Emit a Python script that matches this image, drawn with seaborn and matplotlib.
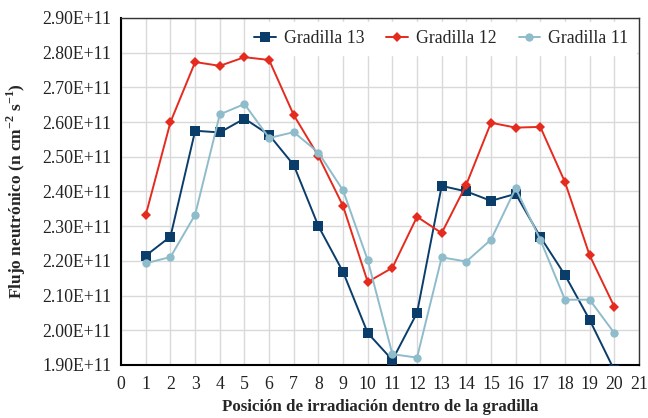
import numpy as np
import pandas as pd
import matplotlib
matplotlib.use("Agg")
import matplotlib.pyplot as plt
import seaborn as sns
from matplotlib.ticker import FuncFormatter, MultipleLocator

posiciones = list(range(1, 21))
gradilla_13 = [2.215, 2.27, 2.575, 2.57, 2.61, 2.563, 2.476, 2.30, 2.168, 1.992,
               1.914, 2.05, 2.416, 2.40, 2.373, 2.393, 2.269, 2.159, 2.03, 1.885]
gradilla_12 = [2.333, 2.60, 2.773, 2.762, 2.787, 2.779, 2.62, 2.502, 2.358, 2.139,
               2.180, 2.327, 2.280, 2.42, 2.598, 2.584, 2.586, 2.427, 2.216, 2.068]
gradilla_11 = [2.193, 2.211, 2.333, 2.622, 2.652, 2.554, 2.571, 2.512, 2.403, 2.202,
               1.931, 1.921, 2.21, 2.198, 2.261, 2.409, 2.261, 2.088, 2.088, 1.992]
series_names = ["Gradilla 13", "Gradilla 12", "Gradilla 11"]
colors = ["#0b3d6b", "#e52a1e", "#8fbccb"]
markers = ["s", "D", "o"]

rows = []
for name, vals in zip(series_names, [gradilla_13, gradilla_12, gradilla_11]):
    for p, v in zip(posiciones, vals):
        rows.append({"pos": p, "flujo": v * 1e11, "serie": name})
df = pd.DataFrame(rows)

sns.set_style("whitegrid")
plt.rcParams["font.family"] = ["Liberation Serif", "DejaVu Serif"]
plt.rcParams["mathtext.fontset"] = "custom"
plt.rcParams["mathtext.rm"] = "Liberation Serif"
plt.rcParams["mathtext.bf"] = "Liberation Serif:bold"

fig = plt.figure(figsize=(6.48, 4.18), dpi=100)
ax = fig.add_axes([0.187, 0.127, 0.799, 0.830])

for name, c, m in zip(series_names, colors, markers):
    sub = df[df["serie"] == name]
    ms = 6.5 if m == "s" else (5.5 if m == "D" else 6)
    sns.lineplot(data=sub, x="pos", y="flujo", ax=ax, color=c, marker=m,
                 markersize=ms, markeredgewidth=0, linewidth=1.4, label=name,
                 clip_on=True, zorder=3)

ax.set_xlim(0, 21)
ax.set_ylim(1.90e11, 2.90e11)
ax.xaxis.set_major_locator(MultipleLocator(1))
ax.yaxis.set_major_locator(MultipleLocator(0.1e11))
ax.yaxis.set_major_formatter(FuncFormatter(lambda v, p: f"{v:.2E}"))
ax.tick_params(axis="both", length=0, labelsize=12.8, colors="#222222")
ax.tick_params(axis="x", pad=8)
ax.tick_params(axis="y", pad=7)
ax.grid(True, color="#d9d9d9", linewidth=1.0)
ax.set_axisbelow(True)
for s in ["left", "bottom"]:
    ax.spines[s].set_color("black")
    ax.spines[s].set_linewidth(1.5)
for s in ["top", "right"]:
    ax.spines[s].set_color("#333333")
    ax.spines[s].set_linewidth(1.0)

ax.set_xlabel("Posición de irradiación dentro de la gradilla", fontsize=12.2,
              fontweight="bold", labelpad=4)
ax.set_ylabel(r"Flujo neutrónico (n cm$^{\mathbf{-2}}$ s$^{\mathbf{-1}}$)",
              fontsize=12.5, fontweight="bold", labelpad=10)

leg = ax.legend(loc="upper right", bbox_to_anchor=(0.998, 0.994), ncol=3,
                frameon=True, fontsize=12.8, handlelength=1.2, columnspacing=1.25,
                handletextpad=0.45, borderaxespad=0.1, borderpad=0.45)
leg.get_frame().set_facecolor("white")
leg.get_frame().set_edgecolor("white")
leg.get_frame().set_alpha(1)
leg.set_zorder(2.5)

fig.savefig("out.png", dpi=100)
